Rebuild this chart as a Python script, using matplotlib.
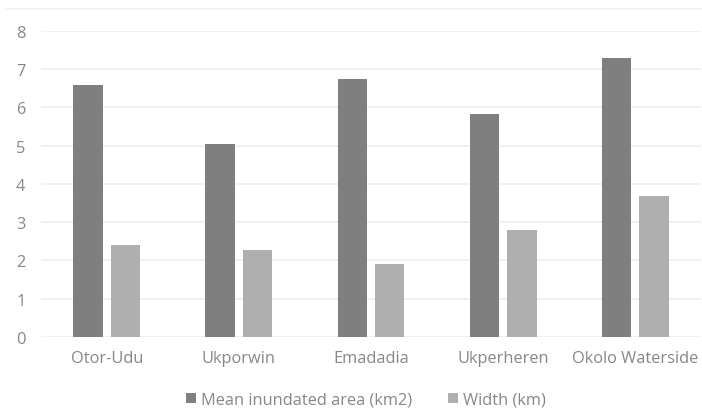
import numpy as np
import matplotlib
matplotlib.use('Agg')
import matplotlib.pyplot as plt
from matplotlib.lines import Line2D

plt.rcParams['font.family'] = ['Open Sans', 'DejaVu Sans']

# data
sites = ['Otor-Udu', 'Ukporwin', 'Emadadia', 'Ukperheren', 'Okolo Waterside']
mean_area = [6.6, 5.05, 6.75, 5.82, 7.3]
width_km = [2.4, 2.28, 1.9, 2.8, 3.68]
yticks = [0, 1, 2, 3, 4, 5, 6, 7, 8]

dark = '#7f7f7f'
light = '#afafaf'
txt = '#878787'

fig = plt.figure(figsize=(7.02, 4.10), dpi=100)
ax = fig.add_axes([0.058, 0.1756, 0.941, 0.7464])

x = np.arange(len(sites))
bw = 0.225
ax.bar(x - 0.141, mean_area, bw, color=dark, label='Mean inundated area (km2)', zorder=3)
ax.bar(x + 0.141, width_km, bw, color=light, label='Width (km)', zorder=3)

ax.set_xlim(-0.5, len(sites) - 0.5)
ax.set_ylim(0, 8)
ax.set_yticks(yticks)
ax.set_xticks(x)
ax.set_xticklabels(sites)
ax.grid(axis='y', color='#eeeeee', linewidth=1.2, zorder=0)
for s in ax.spines.values():
    s.set_visible(False)
ax.tick_params(axis='both', length=0, colors=txt, labelsize=11.8)
ax.tick_params(axis='y', pad=11)
ax.tick_params(axis='x', pad=9)

# faint chart border line at the top
fig.add_artist(Line2D([0.008, 1.0], [0.975, 0.975], color='#f0f0f0', linewidth=1.2))

leg = fig.legend(loc='center', bbox_to_anchor=(0.521, 0.022), ncol=2, frameon=False,
                 fontsize=11.8, handlelength=0.6, handleheight=0.6, handletextpad=0.3,
                 columnspacing=2.2)
for t in leg.get_texts():
    t.set_color(txt)

fig.savefig('out.png', dpi=100)
